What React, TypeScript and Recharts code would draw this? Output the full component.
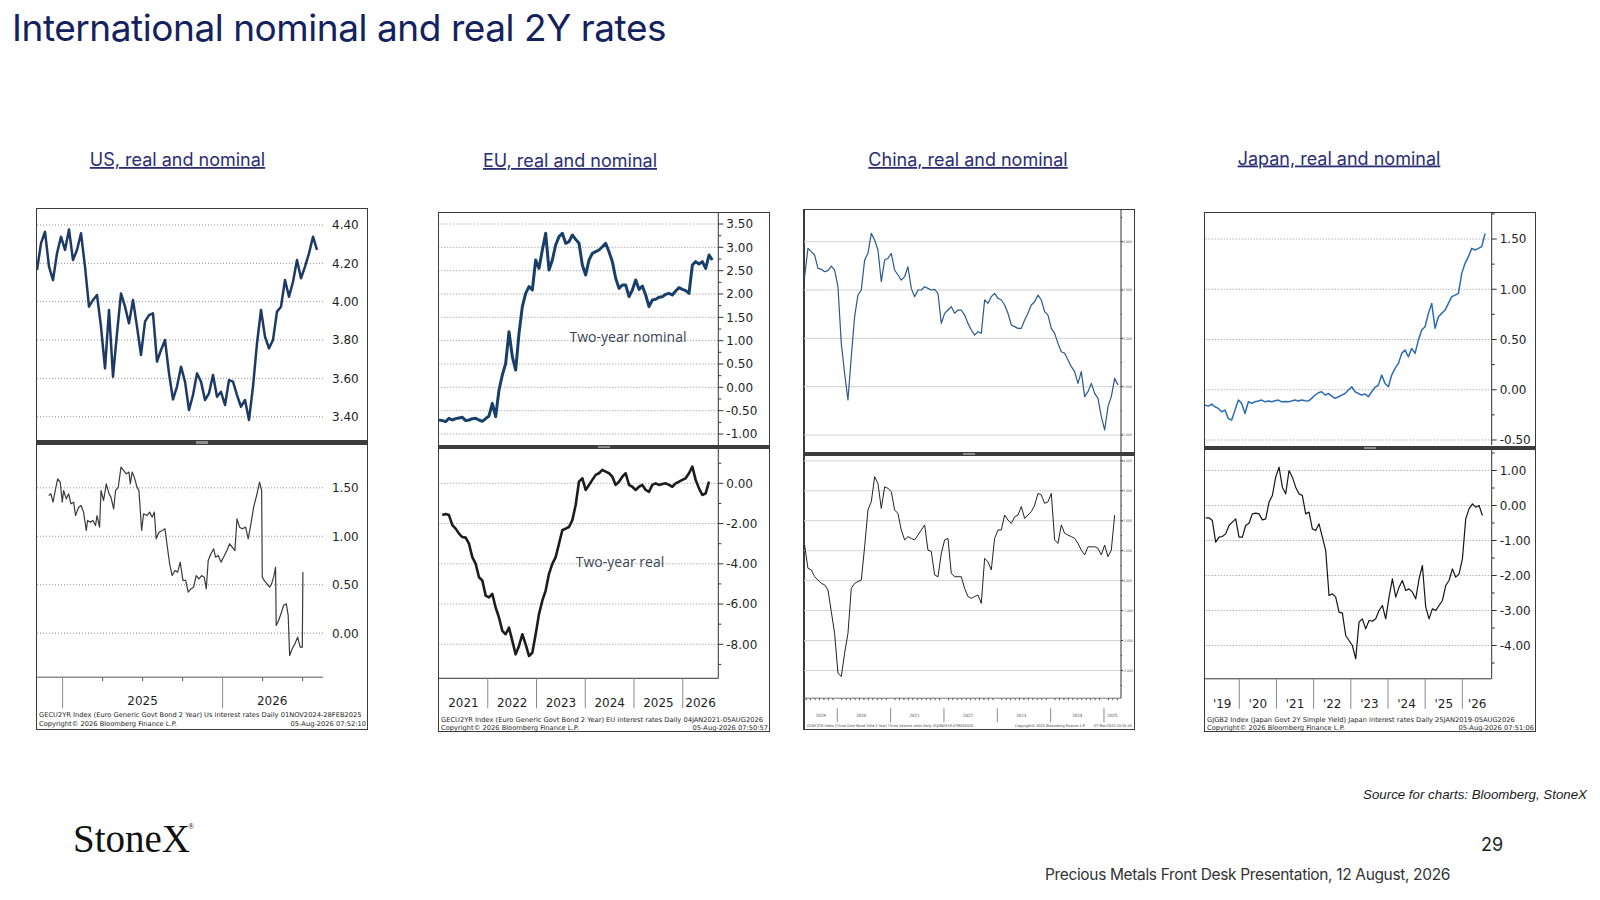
import React from 'react';
import { LineChart, Line, XAxis, YAxis, ReferenceLine } from 'recharts';

type Pt = { t: number; v: number };

// ---------------- DATA ----------------
// US 2Y nominal, sampled every 0.025 yr from 2024.84
const usNominalStart = 2024.84;
const usNominalStep = 0.025;
const usNominal = [
  4.165, 4.304, 4.365, 4.183, 4.113, 4.252, 4.339, 4.27, 4.377, 4.217,
  4.27, 4.357, 4.183, 3.974, 4.009, 4.035, 3.87, 3.652, 3.957, 3.609,
  3.835, 4.043, 3.974, 3.887, 4.009, 3.87, 3.722, 3.896, 3.93, 3.939,
  3.687, 3.748, 3.8, 3.626, 3.49, 3.557, 3.661, 3.583, 3.435, 3.513,
  3.626, 3.583, 3.487, 3.522, 3.617, 3.504, 3.53, 3.461, 3.591, 3.583,
  3.513, 3.452, 3.487, 3.383, 3.557, 3.783, 3.957, 3.817, 3.757, 3.8,
  3.948, 3.974, 4.113, 4.026, 4.104, 4.217, 4.122, 4.183, 4.252, 4.339, 4.27,
];
// US 2Y real (date, value)
const usReal: [number, number][] = [
  [2024.913, 1.421], [2024.927, 1.438], [2024.94, 1.352], [2024.954, 1.472], [2024.969, 1.593],
  [2024.985, 1.558], [2024.998, 1.352], [2025.006, 1.472], [2025.023, 1.386], [2025.038, 1.438],
  [2025.052, 1.335], [2025.069, 1.352], [2025.081, 1.214], [2025.1, 1.3], [2025.115, 1.318],
  [2025.131, 1.249], [2025.148, 1.06], [2025.156, 1.163], [2025.173, 1.146], [2025.19, 1.163],
  [2025.206, 1.111], [2025.215, 1.214], [2025.231, 1.094], [2025.24, 1.472], [2025.256, 1.369],
  [2025.273, 1.541], [2025.29, 1.438], [2025.302, 1.404], [2025.319, 1.283], [2025.331, 1.472],
  [2025.348, 1.507], [2025.365, 1.713], [2025.381, 1.679], [2025.398, 1.644], [2025.415, 1.662],
  [2025.423, 1.541], [2025.435, 1.662], [2025.448, 1.61], [2025.465, 1.507], [2025.477, 1.472],
  [2025.494, 1.06], [2025.506, 1.232], [2025.527, 1.214], [2025.544, 1.249], [2025.56, 1.197],
  [2025.573, 1.249], [2025.585, 0.974], [2025.602, 1.042], [2025.623, 1.06], [2025.64, 1.077],
  [2025.652, 0.922], [2025.669, 0.716], [2025.685, 0.595], [2025.702, 0.647], [2025.719, 0.63],
  [2025.735, 0.733], [2025.752, 0.544], [2025.769, 0.544], [2025.785, 0.423], [2025.802, 0.458],
  [2025.819, 0.475], [2025.835, 0.595], [2025.852, 0.561], [2025.869, 0.595], [2025.885, 0.578],
  [2025.898, 0.458], [2025.91, 0.75], [2025.927, 0.819], [2025.944, 0.87], [2025.956, 0.784],
  [2025.973, 0.802], [2025.99, 0.733], [2026.006, 0.784], [2026.027, 0.853], [2026.044, 0.922],
  [2026.06, 0.888], [2026.077, 0.853], [2026.09, 1.18], [2026.106, 1.094], [2026.123, 1.077],
  [2026.144, 1.094], [2026.16, 0.974], [2026.177, 1.128], [2026.194, 1.3], [2026.215, 1.438],
  [2026.231, 1.558], [2026.244, 1.472], [2026.248, 0.578], [2026.26, 0.544], [2026.277, 0.509],
  [2026.294, 0.475], [2026.306, 0.509], [2026.319, 0.578], [2026.331, 0.681], [2026.335, 0.079],
  [2026.35, 0.131], [2026.365, 0.2], [2026.381, 0.286], [2026.398, 0.303], [2026.41, 0.183],
  [2026.419, -0.23], [2026.435, -0.161], [2026.452, -0.11], [2026.469, -0.041], [2026.485, -0.144],
  [2026.498, -0.144], [2026.502, 0.63],
];

// EU 2Y nominal, from 2021.0 every 0.06838 yr
const euNominalStart = 2021.0;
const euStep = 0.06838;
const euNominal = [
  -0.7, -0.714, -0.736, -0.664, -0.7, -0.671, -0.657, -0.643, -0.714, -0.7,
  -0.671, -0.664, -0.7, -0.729, -0.671, -0.614, -0.343, -0.629, -0.057, 0.264,
  0.514, 1.193, 0.657, 0.371, 1.157, 1.729, 2.014, 2.157, 2.086, 2.729,
  2.55, 2.943, 3.3, 2.514, 2.729, 3.05, 3.229, 3.3, 3.086, 3.121,
  3.264, 3.171, 3.086, 2.621, 2.407, 2.729, 2.871, 2.907, 2.943, 3.014,
  3.086, 2.907, 2.693, 2.336, 2.121, 2.193, 2.193, 1.943, 2.086, 2.3,
  2.1, 2.171, 1.979, 1.729, 1.871, 1.886, 1.929, 1.943, 1.993, 2.014,
  1.979, 2.064, 2.136, 2.1, 2.071, 2.014, 2.621, 2.693, 2.643, 2.693,
  2.55, 2.836, 2.729,
];
// EU 2Y real
const euRealStart = 2021.068;
const euReal = [
  -1.58, -1.53, -1.58, -2.08, -2.25, -2.5, -2.67, -2.7, -3.0, -3.67,
  -4.0, -4.67, -4.83, -5.58, -5.67, -5.5, -6.17, -6.67, -7.33, -7.5,
  -7.17, -7.83, -8.5, -8.08, -7.5, -8.0, -8.58, -8.42, -7.5, -6.5,
  -5.83, -5.33, -4.5, -4.0, -3.67, -3.0, -2.33, -2.25, -2.17, -1.83,
  -1.08, 0.08, 0.25, -0.33, -0.08, 0.17, 0.42, 0.5, 0.67, 0.58,
  0.5, 0.33, -0.08, 0.08, 0.33, 0.5, -0.08, -0.17, -0.33, -0.17,
  -0.08, -0.33, -0.42, -0.08, 0.0, -0.08, -0.03, 0.0, -0.08, -0.17,
  0.0, 0.08, 0.17, 0.25, 0.5, 0.83, 0.17, -0.25, -0.58, -0.5, 0.08,
];

// China 2Y nominal and real, from 2019.3875 every 0.0625 yr
const cnStart = 2019.3875;
const cnStep = 0.0625;
const cnNominal = [
  2.638, 2.931, 2.897, 2.862, 2.724, 2.714, 2.69, 2.7, 2.748, 2.707,
  2.534, 1.948, 1.638, 1.362, 1.81, 2.224, 2.448, 2.5, 2.81, 2.879,
  3.086, 3.017, 2.914, 2.586, 2.81, 2.828, 2.879, 2.707, 2.655, 2.603,
  2.638, 2.741, 2.517, 2.431, 2.5, 2.5, 2.534, 2.517, 2.5, 2.507,
  2.466, 2.155, 2.259, 2.293, 2.328, 2.259, 2.293, 2.293, 2.241, 2.155,
  2.086, 2.034, 2.069, 2.052, 2.397, 2.362, 2.431, 2.466, 2.414, 2.397,
  2.345, 2.259, 2.138, 2.121, 2.103, 2.103, 2.19, 2.259, 2.345, 2.379,
  2.448, 2.397, 2.276, 2.241, 2.103, 2.052, 1.948, 1.862, 1.845, 1.776,
  1.707, 1.655, 1.534, 1.655, 1.397, 1.448, 1.534, 1.431, 1.379, 1.19,
  1.052, 1.293, 1.397, 1.586, 1.517,
];
const cnReal = [
  1.19, 0.41, 0.36, 0.13, 0.02, -0.09, -0.14, -0.31, -1.03, -1.76,
  -3.09, -3.2, -2.42, -1.76, -0.26, -0.09, -0.03, 0.02, 1.13, 2.36,
  2.63, 3.47, 3.24, 2.41, 3.13, 3.08, 2.97, 2.36, 2.24, 1.69,
  1.36, 1.47, 1.41, 1.36, 1.52, 1.69, 1.86, 1.02, 0.97, 0.19,
  0.13, 0.91, 1.36, 1.41, 0.24, 0.13, 0.13, 0.13, -0.26, -0.53,
  -0.59, -0.53, -0.48, -0.76, 0.74, 0.63, 0.36, 1.41, 1.69, 1.69,
  2.19, 2.02, 1.91, 2.13, 2.19, 2.47, 2.08, 2.19, 2.3, 2.52,
  2.91, 2.86, 2.58, 2.63, 2.91, 1.36, 1.24, 1.86, 1.58, 1.52,
  1.47, 1.41, 1.24, 1.02, 0.86, 1.13, 1.13, 1.13, 1.08, 0.86,
  1.19, 0.8, 1.02, 2.19,
];

// Japan 2Y nominal and real, every 0.0897 yr
const jpNominalStart = 2019.077;
const jpRealStart = 2019.095;
const jpStep = 0.0897;
const jpNominal = [
  -0.153, -0.163, -0.143, -0.169, -0.186, -0.219, -0.203, -0.286, -0.302, -0.203,
  -0.103, -0.136, -0.236, -0.12, -0.136, -0.12, -0.113, -0.103, -0.12, -0.113,
  -0.12, -0.11, -0.103, -0.12, -0.116, -0.12, -0.113, -0.103, -0.113, -0.103,
  -0.11, -0.113, -0.086, -0.053, -0.03, -0.02, -0.053, -0.037, -0.063, -0.086,
  -0.07, -0.053, -0.037, -0.003, 0.03, -0.02, -0.037, -0.053, -0.043, -0.07,
  -0.02, 0.023, 0.046, 0.146, 0.063, 0.03, 0.146, 0.212, 0.262, 0.362,
  0.395, 0.328, 0.411, 0.362, 0.494, 0.594, 0.627, 0.76, 0.859, 0.611,
  0.727, 0.76, 0.793, 0.859, 0.926, 0.942, 0.959, 1.158, 1.258, 1.324,
  1.407, 1.391, 1.407, 1.424, 1.556,
];
const jpReal = [
  -0.352, -0.352, -0.43, -1.048, -0.905, -0.886, -0.81, -0.571, -0.476, -0.381,
  -0.905, -0.905, -0.571, -0.505, -0.238, -0.219, -0.238, -0.41, -0.381, 0.095,
  0.286, 0.81, 1.095, 0.524, 0.333, 1.0, 0.81, 0.524, 0.333, 0.286,
  -0.238, -0.19, -0.667, -0.714, -0.524, -0.905, -1.286, -2.571, -2.524, -2.619,
  -3.048, -3.076, -3.714, -3.857, -4.0, -4.381, -3.333, -3.238, -3.524, -3.286,
  -3.305, -3.238, -3.0, -2.857, -3.238, -2.619, -2.095, -2.619, -2.333, -2.143,
  -2.429, -2.381, -2.476, -2.667, -2.095, -1.714, -2.905, -3.238, -2.952, -3.0,
  -2.857, -2.714, -2.286, -2.143, -1.81, -2.048, -1.952, -1.524, -0.381, -0.095,
  0.048, -0.048, 0.0, -0.286,
];

// ---------------- AXIS TICKS / LABELS ----------------
const usNomLabels = [3.4, 3.6, 3.8, 4.0, 4.2, 4.4];
const usRealLabels = [0, 0.5, 1.0, 1.5];
const usYearLines = [2025, 2026];
const usQuarterTicks = [2025.25, 2025.5, 2025.75, 2026.25, 2026.5];
const usYearLabels: [number, string][] = [[2025.5, '2025'], [2026.31, '2026']];

const euNomLabels = [-1, -0.5, 0, 0.5, 1, 1.5, 2, 2.5, 3, 3.5];
const euNomMinor = [-0.75, -0.25, 0.25, 0.75, 1.25, 1.75, 2.25, 2.75, 3.25];
const euRealLabels = [-8, -6, -4, -2, 0];
const euRealMinor = [-9, -7, -5, -3, -1, 1];
const euYearLines = [2022, 2023, 2024, 2025, 2026];
const euYearLabels: [number, string][] = [
  [2021.5, '2021'], [2022.5, '2022'], [2023.5, '2023'], [2024.5, '2024'], [2025.5, '2025'], [2026.365, '2026'],
];

const cnNomLabels = [1, 1.5, 2, 2.5, 3];
const cnNomMinor = [1.25, 1.75, 2.25, 2.75, 3.25];
const cnRealLabels = [-3, -2, -1, 0, 1, 2, 3, 4];
const cnRealMinor = [-3.5, -2.5, -1.5, -0.5, 0.5, 1.5, 2.5, 3.5];
const cnYearLines = [2020, 2021, 2022, 2023, 2024, 2025];
const cnYearLabels: [number, string][] = [
  [2019.69, '2019'], [2020.45, '2020'], [2021.45, '2021'], [2022.45, '2022'], [2023.45, '2023'], [2024.5, '2024'], [2025.16, '2025'],
];
const cnMonthTicks = Array.from({ length: 80 }, (_, k) => 2019 + (5 + k) / 12).filter((v) => v < 2025.31);

const jpNomLabels = [-0.5, 0, 0.5, 1, 1.5];
const jpNomMinor = [-0.25, 0.25, 0.75, 1.25, 1.75];
const jpRealLabels = [-4, -3, -2, -1, 0, 1];
const jpRealMinor = [-4.5, -3.5, -2.5, -1.5, -0.5, 0.5, 1.5];
const jpYearLines = [2020, 2021, 2022, 2023, 2024, 2025, 2026];
const jpYearLabels: [number, string][] = [
  [2019.54, "'19"], [2020.5, "'20"], [2021.5, "'21"], [2022.5, "'22"], [2023.5, "'23"], [2024.5, "'24"], [2025.5, "'25"], [2026.4, "'26"],
];

// ---------------- HELPERS ----------------
const fromSteps = (start: number, step: number, vals: number[]): Pt[] =>
  vals.map((v, i) => ({ t: start + i * step, v }));
const fromPairs = (arr: [number, number][]): Pt[] => arr.map(([t, v]) => ({ t, v }));
const near = (a: number, b: number) => Math.abs(a - b) < 1e-6;
const fmt = (v: number, d: number) => (Math.abs(v) < 1e-9 ? 0 : v).toFixed(d);

const LABEL_FONT = '"DejaVu Sans", Verdana, sans-serif';
const COND_FONT = '"DejaVu Sans Condensed", "Liberation Sans Narrow", "DejaVu Sans", sans-serif';

interface YCfg {
  labels: number[];
  decimals: number;
  tickLen: number;
  minorLen: number;
  gap: number;
  fontSize: number;
  color: string;
  font?: string;
  lift?: number;
}
const makeYTick = (c: YCfg) => (props: any) => {
  const { x, y, payload } = props;
  const v = payload.value as number;
  const major = c.labels.some((l) => near(l, v));
  const len = major ? c.tickLen : c.minorLen;
  return (
    <g>
      {len > 0 && <line x1={x} x2={x + len} y1={y} y2={y} stroke="#333" strokeWidth={1} />}
      {major && (
        <text x={x + c.gap} y={y} dy="0.36em" fontSize={c.fontSize} fontFamily={c.font || LABEL_FONT} fill={c.color}>
          {fmt(v, c.decimals)}
        </text>
      )}
    </g>
  );
};

interface XCfg {
  years: number[];
  minors: number[];
  labels: [number, string][];
  yearFrom: number;
  yearTo: number;
  minorLen: number;
  labelDy: number;
  fontSize: number;
  color: string;
  font?: string;
}
const makeXTick = (c: XCfg) => (props: any) => {
  const { x, y, payload } = props;
  const v = payload.value as number;
  const isYear = c.years.some((l) => near(l, v));
  const isMinor = c.minors.some((l) => near(l, v));
  const lab = c.labels.find((l) => near(l[0], v));
  return (
    <g>
      {isYear && <line x1={x} x2={x} y1={y + c.yearFrom} y2={y + c.yearTo} stroke="#8a8a8a" strokeWidth={1} />}
      {isMinor && !isYear && c.minorLen > 0 && (
        <line x1={x} x2={x} y1={y} y2={y + c.minorLen} stroke="#555" strokeWidth={1} />
      )}
      {lab && (
        <text x={x} y={y + c.labelDy} dy="0.36em" textAnchor="middle" fontSize={c.fontSize} fontFamily={c.font || LABEL_FONT} fill={c.color}>
          {lab[1]}
        </text>
      )}
    </g>
  );
};
const xTickValues = (c: XCfg) =>
  Array.from(new Set([...c.years, ...c.minors, ...c.labels.map((l) => l[0])])).sort((a, b) => a - b);

interface SubProps {
  left: number;
  top: number;
  width: number;
  height: number;
  data: Pt[];
  xDomain: [number, number];
  yDomain: [number, number];
  yTicks: number[];
  grid: number[];
  gridStroke: string;
  gridDash?: string;
  yAxisWidth: number;
  axisLine: boolean;
  yCfg: YCfg;
  lineColor: string;
  lineWidth: number;
  xCfg?: XCfg;
  xHeight?: number;
  xAxisColor?: string;
}

function Sub(p: SubProps) {
  return (
    <div style={{ position: 'absolute', left: p.left, top: p.top }}>
      <LineChart width={p.width} height={p.height} data={p.data} margin={{ top: 0, right: 0, bottom: 0, left: 0 }}>
        {p.grid.map((g) => (
          <ReferenceLine key={g} y={g} stroke={p.gridStroke} strokeDasharray={p.gridDash} strokeWidth={1} />
        ))}
        {p.xCfg ? (
          <XAxis
            dataKey="t"
            type="number"
            domain={p.xDomain}
            allowDataOverflow
            height={p.xHeight}
            ticks={xTickValues(p.xCfg)}
            interval={0}
            tickSize={0}
            tickMargin={0}
            tickLine={false}
            axisLine={{ stroke: p.xAxisColor || '#333', strokeWidth: 1 }}
            tick={makeXTick(p.xCfg)}
          />
        ) : (
          <XAxis dataKey="t" type="number" domain={p.xDomain} allowDataOverflow hide />
        )}
        <YAxis
          orientation="right"
          type="number"
          domain={p.yDomain}
          allowDataOverflow
          width={p.yAxisWidth}
          ticks={p.yTicks}
          interval={0}
          tickSize={0}
          tickMargin={0}
          tickLine={false}
          axisLine={p.axisLine ? { stroke: '#333', strokeWidth: 1 } : false}
          tick={makeYTick(p.yCfg)}
        />
        <Line
          type="linear"
          dataKey="v"
          stroke={p.lineColor}
          strokeWidth={p.lineWidth}
          strokeLinejoin="round"
          dot={false}
          activeDot={false}
          isAnimationActive={false}
        />
      </LineChart>
    </div>
  );
}

const Frame = ({ l, t, r, b }: { l: number; t: number; r: number; b: number }) => (
  <div
    style={{
      position: 'absolute',
      left: l,
      top: t,
      width: r - l,
      height: b - t,
      border: '1px solid #3a3a3a',
      boxSizing: 'border-box',
    }}
  />
);
const Sep = ({ l, r, y, h }: { l: number; r: number; y: number; h: number }) => (
  <>
    <div style={{ position: 'absolute', left: l, top: y, width: r - l, height: h, background: '#3c3c3c' }} />
    <div
      style={{
        position: 'absolute',
        left: (l + r) / 2 - 6,
        top: y + 1,
        width: 12,
        height: h - 2,
        background: '#8c8c8c',
      }}
    />
  </>
);

const dotGrid = { gridStroke: '#8f8f8f', gridDash: '1 2' };
const bbY = (labels: number[], decimals: number, tickLen: number, minorLen: number, gap: number): YCfg => ({
  labels,
  decimals,
  tickLen,
  minorLen,
  gap,
  fontSize: 12,
  color: '#1e1e1e',
});

export default function App() {
  const usTop = fromSteps(usNominalStart, usNominalStep, usNominal);
  const usBot = fromPairs(usReal);
  const euTop = fromSteps(euNominalStart, euStep, euNominal);
  const euBot = fromSteps(euRealStart, euStep, euReal);
  const cnTop = fromSteps(cnStart, cnStep, cnNominal);
  const cnBot = fromSteps(cnStart, cnStep, cnReal);
  const jpTop = fromSteps(jpNominalStart, jpStep, jpNominal);
  const jpBot = fromSteps(jpRealStart, jpStep, jpReal);

  const usX: XCfg = {
    years: usYearLines, minors: usQuarterTicks, labels: usYearLabels,
    yearFrom: 0, yearTo: 31, minorLen: 4, labelDy: 23.3, fontSize: 12, color: '#1e1e1e',
  };
  const euX: XCfg = {
    years: euYearLines, minors: [], labels: euYearLabels,
    yearFrom: 0, yearTo: 30, minorLen: 0, labelDy: 24.5, fontSize: 12, color: '#1e1e1e',
  };
  const jpX: XCfg = {
    years: jpYearLines, minors: [], labels: jpYearLabels,
    yearFrom: 0, yearTo: 30, minorLen: 0, labelDy: 24.5, fontSize: 12, color: '#1e1e1e',
  };
  const cnX: XCfg = {
    years: cnYearLines, minors: cnMonthTicks, labels: cnYearLabels,
    yearFrom: 10, yearTo: 24, minorLen: 2, labelDy: 17, fontSize: 4.4, color: '#444', font: COND_FONT,
  };
  const cnY = (labels: number[]): YCfg => ({
    labels, decimals: 3, tickLen: 2, minorLen: 1, gap: 2, fontSize: 3.5, color: '#555', font: COND_FONT,
  });

  const tiny = { fontFamily: LABEL_FONT, fontSize: 6.7, fill: '#222' };
  const tinier = { fontFamily: COND_FONT, fontSize: 3.8, fill: '#444' };

  return (
    <div style={{ position: 'absolute', left: 0, top: 0, width: 1600, height: 900, background: '#fff', overflow: 'hidden' }}>
      <style>{'.recharts-surface { overflow: visible; }'}</style>

      {/* separators first so that axis labels near them stay readable */}
      <Sep l={36} r={368} y={440} h={4.5} />
      <Sep l={438} r={770} y={445} h={4} />
      <Sep l={803} r={1135} y={452} h={3.5} />
      <Sep l={1204} r={1536} y={445.5} h={4} />

      {/* ---------- US ---------- */}
      <Frame l={36} t={208} r={368} b={730} />
      <Sub
        left={37} top={209} width={331} height={231} data={usTop}
        xDomain={[2024.84, 2026.6275]} yDomain={[3.2784, 4.4835]}
        yTicks={usNomLabels} grid={usNomLabels} {...dotGrid}
        yAxisWidth={45} axisLine={false} yCfg={bbY(usNomLabels, 2, 0, 0, 9)}
        lineColor="#1d3a66" lineWidth={2.5}
      />
      <Sub
        left={37} top={444.5} width={331} height={272.2} data={usBot}
        xDomain={[2024.84, 2026.6275]} yDomain={[-0.454, 1.9416]}
        yTicks={usRealLabels} grid={usRealLabels} {...dotGrid}
        yAxisWidth={45} axisLine={false} yCfg={bbY(usRealLabels, 2, 0, 0, 9)}
        lineColor="#3a3a3a" lineWidth={1.2}
        xCfg={usX} xHeight={40} xAxisColor="#555"
      />

      {/* ---------- EU ---------- */}
      <Frame l={438} t={212} r={770} b={732} />
      <Sub
        left={439} top={213} width={331} height={232} data={euTop}
        xDomain={[2021.0, 2026.729]} yDomain={[-1.236, 3.736]}
        yTicks={[...euNomLabels, ...euNomMinor]} grid={euNomLabels} {...dotGrid}
        yAxisWidth={51.7} axisLine={true} yCfg={bbY(euNomLabels, 2, 5, 3, 8)}
        lineColor="#173f69" lineWidth={3}
      />
      <Sub
        left={439} top={449} width={331} height={269.3} data={euBot}
        xDomain={[2021.0, 2026.729]} yDomain={[-9.69, 1.706]}
        yTicks={[...euRealLabels, ...euRealMinor]} grid={euRealLabels} {...dotGrid}
        yAxisWidth={51.7} axisLine={true} yCfg={bbY(euRealLabels, 2, 5, 3, 8)}
        lineColor="#1c1c1c" lineWidth={2.6}
        xCfg={euX} xHeight={40}
      />

      {/* ---------- China ---------- */}
      <Frame l={803} t={209} r={1135} b={730} />
      <div style={{ position: 'absolute', left: 803, top: 209, width: 2, height: 521, background: '#3a3a3a' }} />
      <Sub
        left={804} top={210} width={331} height={242} data={cnTop}
        xDomain={[2019.376, 2025.319]} yDomain={[0.824, 3.328]}
        yTicks={[...cnNomLabels, ...cnNomMinor]} grid={cnNomLabels} gridStroke="#d2d2d2"
        yAxisWidth={14} axisLine={true} yCfg={cnY(cnNomLabels)}
        lineColor="#2a5a8c" lineWidth={1.2}
      />
      <Sub
        left={804} top={455.5} width={331} height={272.2} data={cnBot}
        xDomain={[2019.376, 2025.319]} yDomain={[-3.923, 4.16]}
        yTicks={[...cnRealLabels, ...cnRealMinor]} grid={cnRealLabels} gridStroke="#d2d2d2"
        yAxisWidth={14} axisLine={true} yCfg={cnY(cnRealLabels)}
        lineColor="#222" lineWidth={1}
        xCfg={cnX} xHeight={30} xAxisColor="#777"
      />

      {/* ---------- Japan ---------- */}
      <Frame l={1204} t={212} r={1536} b={732} />
      <Sub
        left={1205} top={213} width={331} height={232} data={jpTop}
        xDomain={[2019.077, 2026.79]} yDomain={[-0.55, 1.759]}
        yTicks={[...jpNomLabels, ...jpNomMinor]} grid={jpNomLabels} {...dotGrid}
        yAxisWidth={44.3} axisLine={true} yCfg={bbY(jpNomLabels, 2, 5, 3, 8)}
        lineColor="#2c6cb4" lineWidth={1.5}
      />
      <Sub
        left={1205} top={449.5} width={331} height={268.8} data={jpBot}
        xDomain={[2019.077, 2026.79]} yDomain={[-4.951, 1.586]}
        yTicks={[...jpRealLabels, ...jpRealMinor]} grid={jpRealLabels} {...dotGrid}
        yAxisWidth={44.3} axisLine={true} yCfg={bbY(jpRealLabels, 2, 5, 3, 8)}
        lineColor="#151515" lineWidth={1.2}
        xCfg={jpX} xHeight={40}
      />

      {/* ---------- Static text ---------- */}
      <svg width={1600} height={900} style={{ position: 'absolute', left: 0, top: 0, pointerEvents: 'none' }}>
        <text x={12} y={41} fontFamily="Inter, sans-serif" fontSize={37} fill="#13215e" letterSpacing={-0.45}>
          International nominal and real 2Y rates
        </text>

        <g fontFamily="Inter, sans-serif" fontSize={18} fill="#2b2d74" textAnchor="middle" textDecoration="underline">
          <text x={177.5} y={166}>US, real and nominal</text>
          <text x={570} y={167}>EU, real and nominal</text>
          <text x={968} y={166}>China, real and nominal</text>
          <text x={1339} y={164.5}>Japan, real and nominal</text>
        </g>

        <text x={628} y={337} dy="0.35em" textAnchor="middle" fontFamily='"Open Sans", sans-serif' fontSize={14} fill="#3a4654">
          Two-year nominal
        </text>
        <text x={620} y={562} dy="0.35em" textAnchor="middle" fontFamily='"Open Sans", sans-serif' fontSize={14} fill="#3a4654">
          Two-year real
        </text>

        {/* Bloomberg footers */}
        <text x={39} y={717} {...tiny}>GECU2YR Index (Euro Generic Govt Bond 2 Year) Us interest rates Daily 01NOV2024-28FEB2025</text>
        <text x={39} y={726} {...tiny}>Copyright© 2026 Bloomberg Finance L.P.</text>
        <text x={366} y={726} textAnchor="end" {...tiny}>05-Aug-2026 07:52:10</text>

        <text x={441} y={722} {...tiny}>GECU2YR Index (Euro Generic Govt Bond 2 Year) EU interest rates Daily 04JAN2021-05AUG2026</text>
        <text x={441} y={730} {...tiny}>Copyright© 2026 Bloomberg Finance L.P.</text>
        <text x={768} y={730} textAnchor="end" {...tiny}>05-Aug-2026 07:50:57</text>

        <text x={807} y={727} {...tinier}>GCNY2YR Index (China Govt Bond Yield 2 Year) China interest rates Daily 31JAN2019-07MAR2025</text>
        <text x={1015} y={727} {...tinier}>Copyright© 2025 Bloomberg Finance L.P.</text>
        <text x={1132} y={727} textAnchor="end" {...tinier}>07-Mar-2025 10:55:23</text>

        <text x={1207} y={722} {...tiny}>GJGB2 Index (Japan Govt 2Y Simple Yield) Japan interest rates Daily 25JAN2019-05AUG2026</text>
        <text x={1207} y={730} {...tiny}>Copyright© 2026 Bloomberg Finance L.P.</text>
        <text x={1534} y={730} textAnchor="end" {...tiny}>05-Aug-2026 07:51:06</text>

        <text x={1587} y={799} textAnchor="end" fontFamily='"Liberation Sans", Arial, sans-serif' fontStyle="italic" fontSize={13.3} fill="#1a1a1a">
          Source for charts: Bloomberg, StoneX
        </text>

        <text x={73} y={852} fontFamily='"Liberation Serif", serif' fontSize={39} fill="#111">
          StoneX
        </text>
        <text x={188} y={829} fontFamily='"Liberation Serif", serif' fontSize={8} fill="#111">®</text>

        <text x={1481} y={851} fontFamily="Inter, sans-serif" fontSize={18} fill="#222">29</text>
        <text x={1045} y={880} fontFamily="Inter, sans-serif" fontSize={15.5} fill="#333" letterSpacing={-0.35}>
          Precious Metals Front Desk Presentation, 12 August, 2026
        </text>
      </svg>
    </div>
  );
}
